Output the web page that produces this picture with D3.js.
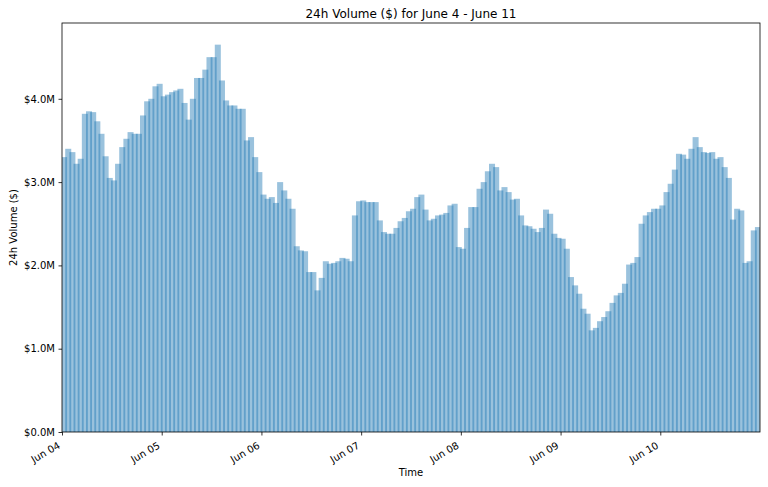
<!DOCTYPE html>
<html>
<head>
<meta charset="utf-8">
<script src="https://cdn.jsdelivr.net/npm/d3@7"></script>
<style>
  body { margin: 0; background: #fff; }
  text { font-family: "DejaVu Sans", sans-serif; fill: #000; }
</style>
</head>
<body>
<svg id="chart" width="768" height="487"></svg>
<script>
// Hourly 24h volume (millions of $), one array per day
const jun04 = [3.30,3.40,3.36,3.22,3.28,3.82,3.85,3.84,3.73,3.58,3.31,3.05,3.02,3.22,3.42,3.52,3.60,3.58,3.58,3.80,3.97,4.00,4.15,4.18];
const jun05 = [4.03,4.05,4.08,4.10,4.12,3.95,3.75,4.00,4.25,4.25,4.35,4.50,4.50,4.65,4.22,3.98,3.92,3.92,3.88,3.88,3.50,3.54,3.30,3.12];
const jun06 = [2.85,2.80,2.82,2.75,3.00,2.90,2.80,2.68,2.23,2.18,2.17,1.92,1.92,1.70,1.85,2.05,2.02,2.03,2.05,2.09,2.08,2.05,2.60,2.77];
const jun07 = [2.78,2.76,2.76,2.76,2.54,2.40,2.38,2.38,2.45,2.53,2.57,2.65,2.68,2.82,2.85,2.67,2.54,2.56,2.60,2.61,2.63,2.72,2.74,2.22];
const jun08 = [2.20,2.45,2.70,2.70,2.92,3.00,3.13,3.22,3.18,2.90,2.94,2.88,2.79,2.80,2.60,2.48,2.47,2.44,2.40,2.45,2.67,2.62,2.38,2.33];
const jun09 = [2.32,2.20,1.86,1.76,1.66,1.48,1.42,1.22,1.25,1.33,1.38,1.45,1.55,1.64,1.67,1.78,2.01,2.03,2.10,2.50,2.60,2.64,2.68,2.68];
const jun10 = [2.72,2.88,2.98,3.15,3.34,3.33,3.28,3.40,3.54,3.42,3.36,3.35,3.36,3.28,3.30,3.18,3.05,2.55,2.68,2.66,2.03,2.05,2.42,2.46];

const dayLabels = ["Jun 04","Jun 05","Jun 06","Jun 07","Jun 08","Jun 09","Jun 10"];
const yTicks = [0, 1e6, 2e6, 3e6, 4e6];

const startTime = new Date(2018, 5, 4, 0, 0, 0);
const endTime = new Date(2018, 5, 11, 0, 0, 0);
const volumes = [].concat(jun04, jun05, jun06, jun07, jun08, jun09, jun10).map(v => v * 1e6);
const data = volumes.map((v, i) => ({ t: new Date(startTime.getTime() + i * 3600e3), v }));
const dayTicks = dayLabels.map((_, i) => new Date(startTime.getTime() + i * 86400e3));

const margin = { left: 62, right: 8, top: 23, bottom: 55 };
const W = 768, H = 487;
const svg = d3.select("#chart");

const x = d3.scaleTime().domain([startTime, endTime]).range([margin.left, W - margin.right]);
const y = d3.scaleLinear().domain([0, 4.91e6]).range([H - margin.bottom, margin.top]);

const step = x(new Date(startTime.getTime() + 3600e3)) - x(startTime);
const bw = step * 1.45;

svg.append("defs").append("clipPath").attr("id", "clip")
  .append("rect").attr("x", margin.left).attr("y", margin.top)
  .attr("width", W - margin.left - margin.right).attr("height", H - margin.top - margin.bottom);

svg.append("g").attr("clip-path", "url(#clip)")
  .selectAll("rect").data(data).join("rect")
  .attr("x", d => x(d.t) + step / 2 - bw / 2)
  .attr("y", d => y(d.v))
  .attr("width", bw)
  .attr("height", d => y(0) - y(d.v))
  .attr("fill", "#1f77b4")
  .attr("fill-opacity", 0.45);

// Axes
const yAxis = d3.axisLeft(y).tickValues(yTicks)
  .tickFormat(d => "$" + (d / 1e6).toFixed(1) + "M").tickSize(3.5).tickPadding(3.5);
const gy = svg.append("g").attr("transform", `translate(${margin.left},0)`).call(yAxis);
gy.select(".domain").remove();
gy.selectAll("text").style("font-size", "10px").style("font-family", "DejaVu Sans, sans-serif");
gy.selectAll("line").attr("stroke", "#000").attr("stroke-width", 0.8);

const xAxis = d3.axisBottom(x).tickValues(dayTicks).tickFormat((d, i) => dayLabels[i]).tickSize(3.5).tickPadding(3.5);
const gx = svg.append("g").attr("transform", `translate(0,${H - margin.bottom})`).call(xAxis);
gx.select(".domain").remove();
gx.selectAll("line").attr("stroke", "#000").attr("stroke-width", 0.8);
gx.selectAll("text")
  .style("font-size", "10px").style("font-family", "DejaVu Sans, sans-serif")
  .attr("text-anchor", "end")
  .attr("dy", null)
  .attr("x", 0)
  .attr("y", 0)
  .attr("transform", "translate(-1.5,15.5) rotate(-30)");

// Frame
svg.append("rect")
  .attr("x", margin.left).attr("y", margin.top)
  .attr("width", W - margin.left - margin.right).attr("height", H - margin.top - margin.bottom)
  .attr("fill", "none").attr("stroke", "#000").attr("stroke-width", 0.8);

// Labels
svg.append("text").attr("x", (margin.left + W - margin.right) / 2).attr("y", 18)
  .attr("text-anchor", "middle").style("font-size", "12px").text("24h Volume ($) for June 4 - June 11");
svg.append("text").attr("x", (margin.left + W - margin.right) / 2).attr("y", 476)
  .attr("text-anchor", "middle").style("font-size", "10px").text("Time");
svg.append("text").attr("transform", `translate(17,${(margin.top + H - margin.bottom) / 2}) rotate(-90)`)
  .attr("text-anchor", "middle").style("font-size", "10px").text("24h Volume ($)");
</script>
</body>
</html>
